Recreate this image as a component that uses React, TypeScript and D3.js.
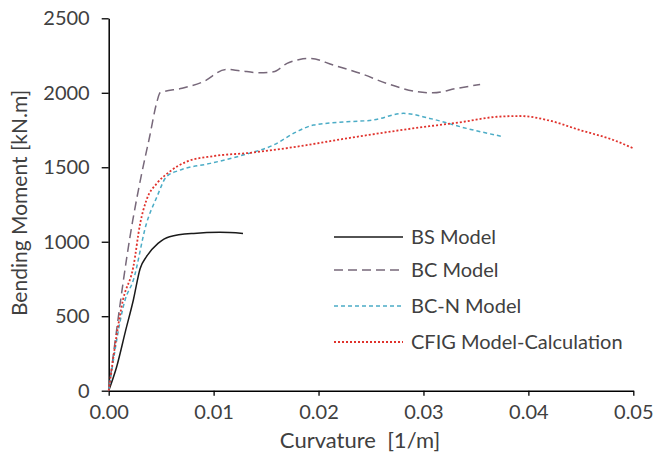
import React, { useEffect, useRef } from 'react';
import * as d3 from 'd3';

type Pt = [number, number];

// BS Model (solid black)
const bsModel: Pt[] = [
  [0, 0], [0.00076, 161], [0.0016, 400], [0.00235, 609], [0.003, 821], [0.0036, 900],
  [0.0047, 989], [0.0058, 1034], [0.0081, 1056], [0.0106, 1063], [0.0128, 1056],
];

// BC Model (long dash)
const bcModel: Pt[] = [
  [0, 0], [0.0023, 1146], [0.00315, 1459], [0.0039, 1705], [0.0046, 1940], [0.0049, 2000],
  [0.007, 2030], [0.009, 2074], [0.0112, 2157], [0.0125, 2148], [0.0144, 2134],
  [0.0157, 2141], [0.017, 2197], [0.0182, 2224], [0.0192, 2231], [0.0214, 2186],
  [0.024, 2130], [0.0265, 2063], [0.0294, 2007], [0.0309, 2000], [0.0332, 2030], [0.0354, 2056],
];

// BC-N Model (short dash, cyan)
const bcnModel: Pt[] = [
  [0, 0], [0.00156, 609], [0.00235, 743], [0.0036, 1123], [0.0046, 1302], [0.0055, 1436],
  [0.0068, 1481], [0.0097, 1526], [0.0128, 1582], [0.0157, 1649], [0.0179, 1738],
  [0.0195, 1783], [0.0227, 1805], [0.0252, 1817], [0.0281, 1862], [0.0306, 1828],
  [0.0341, 1761], [0.0376, 1705],
];

// CFIG Model-Calculation (dotted red)
const cfigModel: Pt[] = [
  [0, 0], [0.00136, 609], [0.00235, 832], [0.003, 1123], [0.0036, 1280], [0.0046, 1392],
  [0.0058, 1470], [0.0074, 1537], [0.01, 1575], [0.0135, 1597], [0.0179, 1638],
  [0.0227, 1694], [0.029, 1761], [0.0338, 1805], [0.037, 1839], [0.0392, 1844],
  [0.0418, 1817], [0.0449, 1750], [0.0481, 1683], [0.05, 1627],
];

const xTicks = [0, 0.01, 0.02, 0.03, 0.04, 0.05];
const yTicks = [0, 500, 1000, 1500, 2000, 2500];

const series = [
  { name: 'BS Model', data: bsModel, color: '#1a1a1a', dash: null, width: 1.5 },
  { name: 'BC Model', data: bcModel, color: '#77687a', dash: '9,5', width: 1.5 },
  { name: 'BC-N Model', data: bcnModel, color: '#4bacc6', dash: '4,3', width: 1.5 },
  { name: 'CFIG Model-Calculation', data: cfigModel, color: '#e0322c', dash: '2,2', width: 1.8 },
];

const width = 654;
const height = 459;
const font = 'Lato, "Open Sans", sans-serif';

export default function App() {
  const ref = useRef<SVGSVGElement>(null);

  useEffect(() => {
    const svg = d3.select(ref.current);
    svg.selectAll('*').remove();

    const x = d3.scaleLinear().domain([0, 0.05]).range([108.7, 633.3]);
    const y = d3.scaleLinear().domain([0, 2500]).range([390.7, 18.3]);

    // x axis
    const gx = svg
      .append('g')
      .attr('transform', `translate(0,${y(0)})`)
      .call(d3.axisBottom(x).tickValues(xTicks).tickFormat(d3.format('.2f')).tickSize(5).tickSizeOuter(0));
    gx.select('.domain').attr('stroke', '#000').attr('stroke-width', 1.5);
    gx.selectAll('.tick line').attr('stroke', '#000').attr('stroke-width', 1.3);
    gx.selectAll('.tick text')
      .attr('dy', '1.0em')
      .style('font-family', font)
      .style('font-size', '20px')
      .attr('fill', '#404040');

    // y axis
    const gy = svg
      .append('g')
      .attr('transform', `translate(${x(0)},0)`)
      .call(
        d3.axisLeft(y).tickValues(yTicks).tickFormat(d3.format('d')).tickSize(7).tickSizeOuter(0).tickPadding(12)
      );
    gy.select('.domain').attr('stroke', '#000').attr('stroke-width', 1.5);
    gy.selectAll('.tick line').attr('stroke', '#000').attr('stroke-width', 1.3);
    gy.selectAll('.tick text')
      .style('font-family', font)
      .style('font-size', '20px')
      .attr('fill', '#404040');

    // lines
    const line = d3
      .line<Pt>()
      .x((d) => x(d[0]))
      .y((d) => y(d[1]))
      .curve(d3.curveMonotoneX);

    series.forEach((s) => {
      svg
        .append('path')
        .datum(s.data)
        .attr('fill', 'none')
        .attr('stroke', s.color)
        .attr('stroke-width', s.width)
        .attr('stroke-dasharray', s.dash)
        .attr('d', line);
    });

    // axis titles
    svg
      .append('text')
      .attr('x', 360)
      .attr('y', 448)
      .attr('text-anchor', 'middle')
      .style('font-family', font)
      .style('font-size', '22px')
      .style('white-space', 'pre')
      .attr('fill', '#404040')
      .text('Curvature  [1/m]');

    svg
      .append('text')
      .attr('transform', `translate(27,203) rotate(-90)`)
      .attr('text-anchor', 'middle')
      .style('font-family', font)
      .style('font-size', '21px')
      .attr('fill', '#404040')
      .text('Bending Moment [kN.m]');

    // legend
    const legendY = [237, 270, 306, 342];
    const legend = svg.append('g');
    series.forEach((s, i) => {
      legend
        .append('line')
        .attr('x1', 334)
        .attr('x2', 403)
        .attr('y1', legendY[i])
        .attr('y2', legendY[i])
        .attr('stroke', s.color)
        .attr('stroke-width', s.width)
        .attr('stroke-dasharray', s.dash);
      legend
        .append('text')
        .attr('x', 411)
        .attr('y', legendY[i])
        .attr('dy', '0.35em')
        .style('font-family', font)
        .style('font-size', '20px')
        .attr('fill', '#404040')
        .text(s.name);
    });
  }, []);

  return (
    <svg
      ref={ref}
      width={width}
      height={height}
      style={{ position: 'absolute', left: 0, top: 0, background: '#fff' }}
    />
  );
}
